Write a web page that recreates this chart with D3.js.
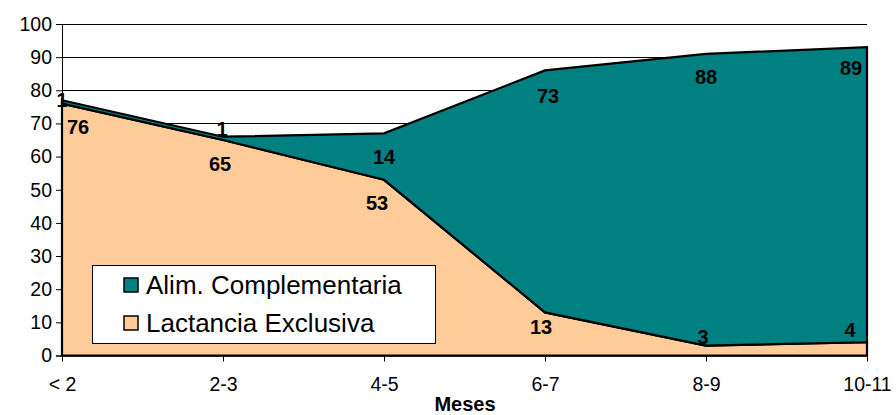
<!DOCTYPE html>
<html><head><meta charset="utf-8">
<script src="https://cdn.jsdelivr.net/npm/d3@7"></script>
<style>
html,body{margin:0;padding:0;background:#fff;}
svg{display:block;font-family:Arial,"Liberation Sans",sans-serif;}
</style></head>
<body>
<svg id="chart" width="896" height="415"></svg>
<script>
const categories = ["< 2", "2-3", "4-5", "6-7", "8-9", "10-11"];
const lactanciaExclusiva = [76, 65, 53, 13, 3, 4];
const alimComplementaria = [1, 1, 14, 73, 88, 89];
const yTicks = [0, 10, 20, 30, 40, 50, 60, 70, 80, 90, 100];
const seriesNames = ["Lactancia Exclusiva", "Alim. Complementaria"];
const axisTitle = "Meses";

// label offsets (layout only), px relative to each series' top point
const lactLabelOffset = [[16,23],[-3,24],[-7,23],[-4,15],[-3,-9],[-17,-12]];
const compLabelOffset = [[0,0],[-1,-8],[0,24],[3,26],[0,23],[-16,21]];

const svg = d3.select("#chart");
const mLeft = 62, mRight = 867, mTop = 24, mBottom = 355.5;
const x = d3.scalePoint().domain(categories).range([mLeft, mRight]);
const y = d3.scaleLinear().domain([0, 100]).range([mBottom, mTop]);

const rows = categories.map((c, i) => ({cat: c, lact: lactanciaExclusiva[i], comp: alimComplementaria[i]}));
const stack = d3.stack().keys(["lact", "comp"])(rows);

// gridlines
svg.append("g").selectAll("line").data(yTicks.filter(t => t > 0)).join("line")
  .attr("x1", mLeft).attr("x2", mRight)
  .attr("y1", d => Math.round(y(d)) + 0.5).attr("y2", d => Math.round(y(d)) + 0.5)
  .attr("stroke", "#000").attr("stroke-width", 1);

const area = d3.area()
  .x((d, i) => x(categories[i]))
  .y0(d => y(d[0])).y1(d => y(d[1]));

const fills = ["#FFCC99", "#008080"];
svg.append("g").selectAll("path").data(stack).join("path")
  .attr("d", d => area(d) + "Z")
  .attr("fill", (d, i) => fills[i])
  .attr("stroke", "#000").attr("stroke-width", 2.2)
  .attr("stroke-linejoin", "miter");

// axes
const yAxis = d3.axisLeft(y).tickValues(yTicks).tickSize(6).tickPadding(4);
const gy = svg.append("g").attr("transform", `translate(${mLeft},0)`).call(yAxis);
gy.select(".domain").attr("stroke", "#000").attr("stroke-width", 1);
gy.selectAll(".tick line").attr("stroke", "#000");
gy.selectAll(".tick text").attr("font-size", 19.5).attr("fill", "#000")
  .attr("font-family", "Arial, 'Liberation Sans', sans-serif");

const xAxis = d3.axisBottom(x).tickSize(6).tickPadding(16).tickSizeOuter(0);
const gx = svg.append("g").attr("transform", `translate(0,${mBottom})`).call(xAxis);
gx.select(".domain").attr("stroke", "#000").attr("stroke-width", 1.5);
gx.selectAll(".tick line").attr("stroke", "#000");
gx.selectAll(".tick text").attr("font-size", 19.5).attr("fill", "#000")
  .attr("font-family", "Arial, 'Liberation Sans', sans-serif");

svg.append("text").attr("x", 465).attr("y", 411).attr("text-anchor", "middle")
  .attr("font-size", 20).attr("font-weight", "bold").text(axisTitle);

// data labels
const lbl = svg.append("g").attr("font-size", 20).attr("font-weight", "bold")
  .attr("text-anchor", "middle").attr("fill", "#000");
stack.forEach((s, si) => {
  const vals = si === 0 ? lactanciaExclusiva : alimComplementaria;
  const offs = si === 0 ? lactLabelOffset : compLabelOffset;
  s.forEach((d, i) => {
    lbl.append("text")
      .attr("x", x(categories[i]) + offs[i][0])
      .attr("y", y(d[1]) + offs[i][1])
      .attr("dominant-baseline", "central")
      .text(vals[i]);
  });
});

// legend
const lg = svg.append("g").attr("transform", "translate(92,265)");
lg.append("rect").attr("x", 0.5).attr("y", 0.5).attr("width", 343).attr("height", 78)
  .attr("fill", "#fff").attr("stroke", "#000").attr("stroke-width", 1);
const legendItems = [{name: seriesNames[1], fill: fills[1]}, {name: seriesNames[0], fill: fills[0]}];
legendItems.forEach((it, i) => {
  const cy = 20 + i * 38;
  lg.append("rect").attr("x", 32).attr("y", cy - 7).attr("width", 14).attr("height", 14)
    .attr("fill", it.fill).attr("stroke", "#000").attr("stroke-width", 1.5);
  lg.append("text").attr("x", 54).attr("y", cy).attr("dominant-baseline", "central")
    .attr("font-size", 26).attr("fill", "#000").text(it.name);
});
</script>
</body></html>
